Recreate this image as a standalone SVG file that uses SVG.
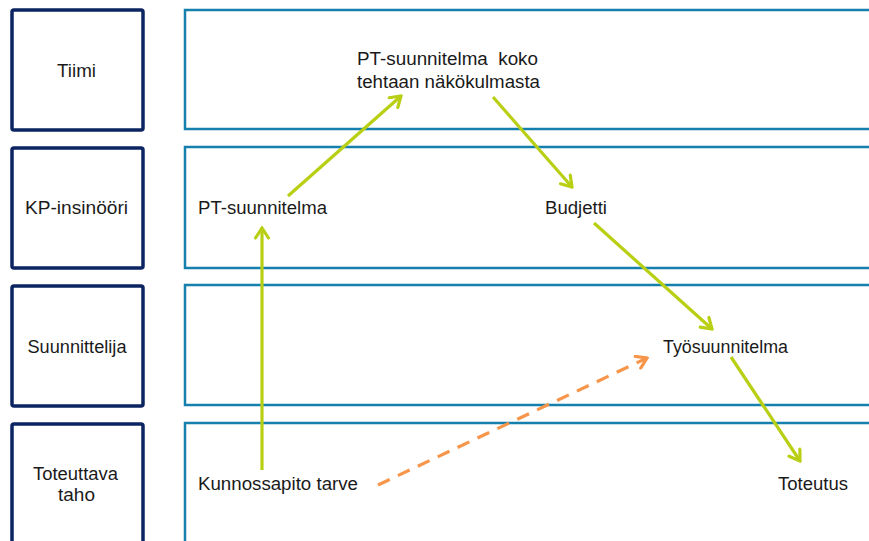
<svg xmlns="http://www.w3.org/2000/svg" width="869" height="541" viewBox="0 0 869 541">
  <defs>
    <style>
      .role { fill: #ffffff; stroke: #0c2461; stroke-width: 3.5; }
      .lane { fill: #ffffff; stroke: #1580ad; stroke-width: 2.5; }
      text { font-family: "Liberation Sans", Arial, sans-serif; font-size: 17.5px; fill: #1a1a1a; }
      .mid { text-anchor: middle; }
      .flow { fill: none; stroke: #b8cf14; stroke-width: 3.2; marker-end: url(#head-green); }
      .flow-dash { fill: none; stroke: #f7964a; stroke-width: 3.2; stroke-dasharray: 13 9; marker-end: url(#head-orange); }
    </style>
    <marker id="head-green" viewBox="-12 -8 14 16" markerWidth="14" markerHeight="16" refX="0" refY="0" orient="auto" markerUnits="userSpaceOnUse">
      <path d="M-10,-6.5 L0,0 L-10,6.5" fill="none" stroke="#b8cf14" stroke-width="3.2" stroke-linecap="round" stroke-linejoin="miter"/>
    </marker>
    <marker id="head-orange" viewBox="-12 -8 14 16" markerWidth="14" markerHeight="16" refX="0" refY="0" orient="auto" markerUnits="userSpaceOnUse">
      <path d="M-10,-6.5 L0,0 L-10,6.5" fill="none" stroke="#f7964a" stroke-width="3.2" stroke-linecap="round" stroke-linejoin="miter"/>
    </marker>
  </defs>

  <rect width="869" height="541" fill="#ffffff"/>

  <!-- swimlane rows -->
  <g id="lane-tiimi">
    <rect class="lane" x="185" y="10" width="700" height="119"/>
    <rect class="role" x="12" y="10" width="131" height="120" rx="2"/>
    <text class="mid" x="76.5" y="77" textLength="39" lengthAdjust="spacingAndGlyphs">Tiimi</text>
  </g>
  <g id="lane-kp">
    <rect class="lane" x="185" y="147" width="700" height="121"/>
    <rect class="role" x="12" y="148" width="131" height="120" rx="2"/>
    <text class="mid" x="76.5" y="214" textLength="103" lengthAdjust="spacingAndGlyphs">KP-insinööri</text>
  </g>
  <g id="lane-suunnittelija">
    <rect class="lane" x="185" y="285" width="700" height="120"/>
    <rect class="role" x="12" y="286" width="131" height="120" rx="2"/>
    <text class="mid" x="77" y="353" textLength="99" lengthAdjust="spacingAndGlyphs">Suunnittelija</text>
  </g>
  <g id="lane-toteuttava">
    <rect class="lane" x="185" y="423" width="700" height="140"/>
    <rect class="role" x="12" y="424" width="131" height="140" rx="2"/>
    <text class="mid" x="75.5" y="480" textLength="85" lengthAdjust="spacingAndGlyphs">Toteuttava</text>
    <text class="mid" x="76.5" y="501" textLength="37" lengthAdjust="spacingAndGlyphs">taho</text>
  </g>

  <!-- activities -->
  <g id="node-pt-koko">
    <text x="357" y="65" xml:space="preserve" textLength="181" lengthAdjust="spacingAndGlyphs">PT-suunnitelma  koko</text>
    <text x="357" y="88" textLength="183" lengthAdjust="spacingAndGlyphs">tehtaan näkökulmasta</text>
  </g>
  <g id="node-pt">
    <text x="198" y="214" textLength="129" lengthAdjust="spacingAndGlyphs">PT-suunnitelma</text>
  </g>
  <g id="node-budjetti">
    <text x="545" y="214" textLength="62" lengthAdjust="spacingAndGlyphs">Budjetti</text>
  </g>
  <g id="node-tyosuunnitelma">
    <text x="663" y="353" textLength="125" lengthAdjust="spacingAndGlyphs">Työsuunnitelma</text>
  </g>
  <g id="node-kunnossapito">
    <text x="198" y="490" textLength="160" lengthAdjust="spacingAndGlyphs">Kunnossapito tarve</text>
  </g>
  <g id="node-toteutus">
    <text x="778" y="490" textLength="70" lengthAdjust="spacingAndGlyphs">Toteutus</text>
  </g>

  <!-- connectors -->
  <g id="connectors">
    <line class="flow" x1="262" y1="470" x2="262" y2="228"/>
    <line class="flow" x1="288" y1="196" x2="401" y2="96"/>
    <line class="flow" x1="493" y1="97" x2="572" y2="187"/>
    <line class="flow" x1="594" y1="223" x2="712" y2="329"/>
    <line class="flow" x1="731" y1="357" x2="800" y2="461"/>
    <line class="flow-dash" x1="378" y1="485" x2="647" y2="358"/>
  </g>
</svg>
